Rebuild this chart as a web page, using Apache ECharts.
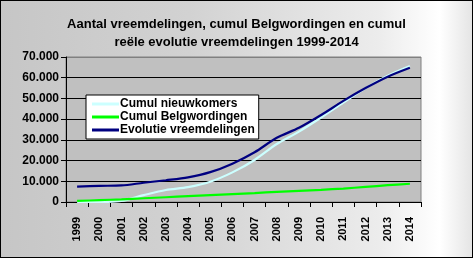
<!DOCTYPE html>
<html><head><meta charset="utf-8">
<script src="https://cdn.jsdelivr.net/npm/echarts@6/dist/echarts.min.js"></script>
<style>
html,body{margin:0;padding:0;}
#wrap{position:relative;width:473px;height:258px;background:linear-gradient(to right,#c6c6c6 0%,#d2d2d2 40%,#ececec 80%,#ffffff 93%,#e4e4e4 100%);}
#chart{position:absolute;left:0;top:0;width:473px;height:258px;}
#frame{position:absolute;left:0;top:0;width:471px;height:256px;border:1px solid #000;pointer-events:none;}
</style>
</head><body>
<div id="wrap"><div id="chart"></div><div id="frame"></div></div>
<script>
const years = ['1999','2000','2001','2002','2003','2004','2005','2006','2007','2008','2009','2010','2011','2012','2013','2014'];
const nieuwkomers = [0, 0, 500, 3300, 5800, 7200, 9800, 14300, 20300, 28000, 34000, 40800, 48000, 55000, 61000, 65700];
const belgwordingen = [500, 900, 1300, 1800, 2300, 2800, 3300, 3800, 4300, 4900, 5400, 5900, 6500, 7300, 8100, 8800];
const evolutie = [7400, 7800, 8000, 9300, 10500, 11900, 14400, 18500, 24000, 31000, 35800, 42000, 48800, 55000, 60500, 64800];
const seriesNames = ['Cumul nieuwkomers', 'Cumul Belgwordingen', 'Evolutie vreemdelingen'];
const titleText = 'Aantal vreemdelingen, cumul Belgwordingen en cumul\nreële evolutie vreemdelingen 1999-2014';

const chart = echarts.init(document.getElementById('chart'), null, {renderer: 'canvas'});
const fmt = v => v === 0 ? '0' : String(v).replace(/\B(?=(\d{3})+(?!\d))/g, '.');
chart.setOption({
  animation: false,
  backgroundColor: 'transparent',
  title: {
    text: titleText, left: 'center', top: 10,
    textStyle: {fontFamily: 'Arial, Liberation Sans', fontWeight: 'bold', fontSize: 13, color: '#000', lineHeight: 18}
  },
  legend: {
    orient: 'vertical', left: 86, top: 95,
    backgroundColor: '#fff', borderColor: '#000', borderWidth: 1, borderRadius: 0,
    padding: [3, 4, 3, 6], itemGap: 1, itemWidth: 27, itemHeight: 3, icon: 'rect',
    textStyle: {fontFamily: 'Arial, Liberation Sans', fontWeight: 'bold', fontSize: 12, color: '#000', padding: [0, 0, 0, -4]},
    data: seriesNames
  },
  grid: {left: 66, right: 52, top: 57, bottom: 56, show: true, backgroundColor: '#c0c0c0', borderColor: '#808080', borderWidth: 1},
  xAxis: {
    type: 'category', data: years, boundaryGap: true,
    axisLine: {lineStyle: {color: '#000', width: 1}},
    axisTick: {show: true, length: 5, lineStyle: {color: '#000'}},
    axisLabel: {rotate: 90, margin: 15, fontFamily: 'Arial, Liberation Sans', fontWeight: 'bold', fontSize: 11, color: '#000', interval: 0}
  },
  yAxis: {
    type: 'value', min: 0, max: 70000, interval: 10000,
    axisLine: {show: true, lineStyle: {color: '#000'}},
    axisTick: {show: true, length: 5, lineStyle: {color: '#000'}},
    axisLabel: {formatter: fmt, margin: 7, fontFamily: 'Arial, Liberation Sans', fontWeight: 'bold', fontSize: 12, color: '#000'},
    splitLine: {show: true, lineStyle: {color: ['#000','#000','#000','#000','#000','#000','#000','#808080'], width: 1}}
  },
  series: [
    {name: seriesNames[0], type: 'line', data: nieuwkomers, smooth: 0.3, showSymbol: false, color: '#ccffff', lineStyle: {width: 2.2}},
    {name: seriesNames[1], type: 'line', data: belgwordingen, smooth: 0.3, showSymbol: false, color: '#00ff00', lineStyle: {width: 2.2}},
    {name: seriesNames[2], type: 'line', data: evolutie, smooth: 0.3, showSymbol: false, color: '#000080', lineStyle: {width: 2.2}}
  ]
});
</script>
</body></html>
